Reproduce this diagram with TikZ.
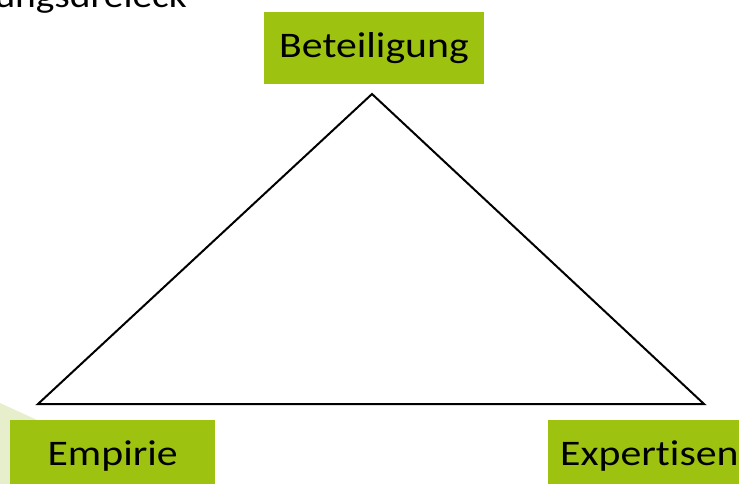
\documentclass[tikz,border=0pt]{standalone}
\usepackage{fontspec}
\setmainfont[FakeStretch=1.16, Ligatures={NoCommon}]{Carlito}
\usetikzlibrary{positioning}
\definecolor{LG}{HTML}{9DC310}
\definecolor{PL}{HTML}{E6EECB}

\begin{document}
\begin{tikzpicture}[x=1pt, y=-1pt,
    corner/.style={fill=LG, minimum height=72pt, inner xsep=12pt,
                   font=\fontsize{36}{36}\selectfont, text=black}]

    \useasboundingbox (0,0) rectangle (739,484);
    \clip (0,0) rectangle (739,484);

    %% ── light band behind the left corner ───────────
    \fill[PL] (0,403) -- (48,425) -- (48,484) -- (0,484) -- cycle;

    %% ── title (cut off at the top) ──────────────────
    \node[anchor=base east, inner sep=0pt,
          font=\fontsize{34}{34}\selectfont] (title) at (187,8)
      {ungsdreieck};

    %% ── the three corners ───────────────────────────
    \node[corner, anchor=north, minimum width=220pt] (beteil)
      at (374,12) {Beteiligung};
    \node[corner, anchor=north west, minimum width=205pt] (empirie)
      at (10,420) {Empirie};
    \node[corner, anchor=north west] (expert)
      at (548,420) {Expertisen};

    %% ── triangle ────────────────────────────────────
    \coordinate (apex)  at (372,94);
    \coordinate (left)  at (38,404);
    \coordinate (right) at (704,404);
    \draw[line width=2pt, line join=miter]
      (apex) -- (right) -- (left) -- cycle;

\end{tikzpicture}
\end{document}
